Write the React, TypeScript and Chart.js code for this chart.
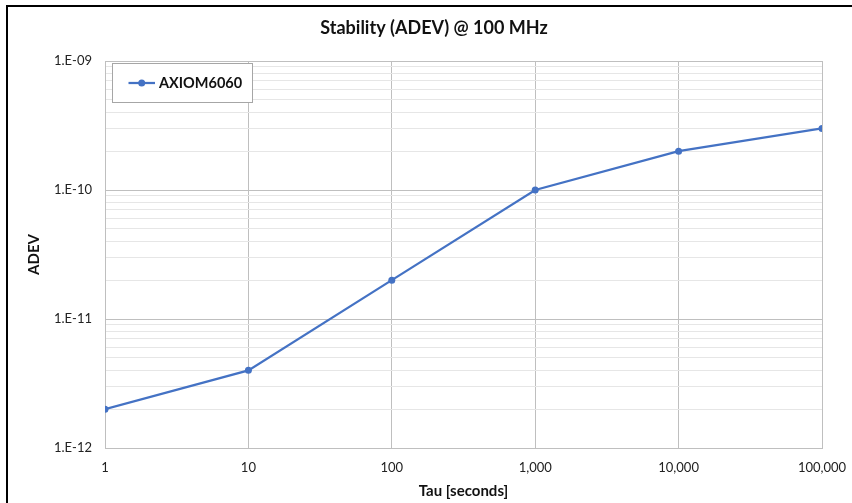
import React, { useEffect, useRef } from "react";
import { Chart, registerables } from "chart.js";

Chart.register(...registerables);

const chartTitle = "Stability (ADEV) @ 100 MHz";
const seriesName = "AXIOM6060";
const xAxisTitle = "Tau [seconds]";
const yAxisTitle = "ADEV";

const tau = [1, 10, 100, 1000, 10000, 100000];
const adev = [2e-12, 4e-12, 2e-11, 1e-10, 2e-10, 3e-10];

const xTickValues = [1, 10, 100, 1000, 10000, 100000];
const xTickLabels = ["1", "10", "100", "1,000", "10,000", "100,000"];
const yTickValues = [1e-12, 1e-11, 1e-10, 1e-9];
const yTickLabels = ["1.E-12", "1.E-11", "1.E-10", "1.E-09"];

const FONT = "Lato, 'Open Sans', sans-serif";
const LINE = "#4472C4";
const MAJOR = "#BFBFBF";
const MINOR = "#E6E6E6";

const titleAndLegend = {
  id: "titleAndLegend",
  afterDraw(chart: any) {
    const { ctx, chartArea } = chart;
    const ds = chart.data.datasets[0];
    ctx.save();
    // chart title
    ctx.fillStyle = "#111";
    ctx.font = `bold 18px ${FONT}`;
    ctx.textAlign = "center";
    ctx.textBaseline = "middle";
    ctx.fillText(chartTitle, chart.width / 2 + 4, 21);
    // legend box
    const x = chartArea.left + 7;
    const y = chartArea.top + 2;
    const w = 140;
    const h = 39;
    ctx.fillStyle = "#ffffff";
    ctx.fillRect(x, y, w, h);
    ctx.strokeStyle = "#A6A6A6";
    ctx.lineWidth = 1;
    ctx.strokeRect(x + 0.5, y + 0.5, w, h);
    const my = y + h / 2 + 0.5;
    ctx.strokeStyle = LINE;
    ctx.lineWidth = 2.25;
    ctx.beginPath();
    ctx.moveTo(x + 16.5, my);
    ctx.lineTo(x + 43, my);
    ctx.stroke();
    ctx.fillStyle = LINE;
    ctx.beginPath();
    ctx.arc(x + 29.7, my, 3.5, 0, Math.PI * 2);
    ctx.fill();
    ctx.fillStyle = "#111";
    ctx.font = `bold 14.5px ${FONT}`;
    ctx.textAlign = "left";
    ctx.fillText(ds.label, x + 47, my);
    ctx.restore();
  },
};

export default function App() {
  const ref = useRef<HTMLCanvasElement | null>(null);

  useEffect(() => {
    if (!ref.current) return;
    const yTicks: any[] = [];
    for (let i = 0; i < yTickValues.length; i++) {
      const v = yTickValues[i];
      yTicks.push({ value: v, major: true });
      if (i < yTickValues.length - 1) {
        for (let m = 2; m <= 9; m++) yTicks.push({ value: v * m, major: false });
      }
    }
    const chart = new Chart(ref.current, {
      type: "line",
      data: {
        datasets: [
          {
            label: seriesName,
            data: tau.map((t, i) => ({ x: t, y: adev[i] })),
            borderColor: LINE,
            backgroundColor: LINE,
            borderWidth: 2.25,
            pointRadius: 3.5,
            pointHoverRadius: 3.5,
            pointBackgroundColor: LINE,
            pointBorderWidth: 0,
            tension: 0,
          },
        ],
      },
      options: {
        responsive: false,
        animation: false,
        layout: { padding: { left: 0, right: 30, top: 54, bottom: 0 } },
        plugins: {
          legend: { display: false },
          tooltip: { enabled: false },
          title: { display: false },
        },
        scales: {
          x: {
            type: "logarithmic",
            min: 1,
            max: 100000,
            afterBuildTicks: (s: any) => {
              s.ticks = xTickValues.map((v) => ({ value: v, major: true }));
            },
            afterFit: (s: any) => {
              s.height = 55;
              s.paddingLeft = 0;
              s.paddingRight = 0;
            },
            ticks: {
              autoSkip: false,
              maxRotation: 0,
              padding: 12,
              color: "#222",
              font: { family: FONT, size: 13 },
              callback: (v: any) => {
                const i = xTickValues.indexOf(Number(v));
                return i >= 0 ? xTickLabels[i] : "";
              },
            },
            grid: { color: MAJOR, drawTicks: false, lineWidth: 1 },
            border: { color: MAJOR },
            title: {
              display: true,
              text: xAxisTitle,
              color: "#111",
              font: { family: FONT, size: 15, weight: "bold" },
              padding: { top: 0, bottom: 3 },
            },
          },
          y: {
            type: "logarithmic",
            min: 1e-12,
            max: 1e-9,
            afterBuildTicks: (s: any) => {
              s.ticks = yTicks.map((t) => ({ ...t }));
            },
            afterFit: (s: any) => {
              s.width = 97;
              s.paddingTop = 0;
              s.paddingBottom = 0;
            },
            ticks: {
              autoSkip: false,
              padding: 13,
              color: "#222",
              font: { family: FONT, size: 13 },
              callback: (v: any) => {
                const i = yTickValues.findIndex((t) => Math.abs(t - Number(v)) / t < 1e-6);
                return i >= 0 ? yTickLabels[i] : "";
              },
            },
            grid: {
              drawTicks: false,
              lineWidth: 1,
              color: (c: any) => (c.tick && c.tick.major ? MAJOR : MINOR),
            },
            border: { color: MAJOR },
            title: {
              display: true,
              text: yAxisTitle,
              color: "#111",
              font: { family: FONT, size: 15, weight: "bold" },
              padding: { top: 17, bottom: 0 },
            },
          },
        },
      },
      plugins: [titleAndLegend],
    } as any);
    return () => chart.destroy();
  }, []);

  return (
    <div
      style={{
        position: "fixed",
        left: 0,
        top: 0,
        width: 852,
        height: 503,
        overflow: "hidden",
        background: "#fff",
      }}
    >
      <div
        style={{
          position: "absolute",
          left: 6,
          top: 5,
          width: 900,
          height: 600,
          borderTop: "2px solid #000",
          borderLeft: "2px solid #000",
        }}
      />
      <div style={{ position: "absolute", left: 8, top: 7, width: 844, height: 496 }}>
        <canvas ref={ref} width={844} height={496} style={{ display: "block" }} />
      </div>
    </div>
  );
}
